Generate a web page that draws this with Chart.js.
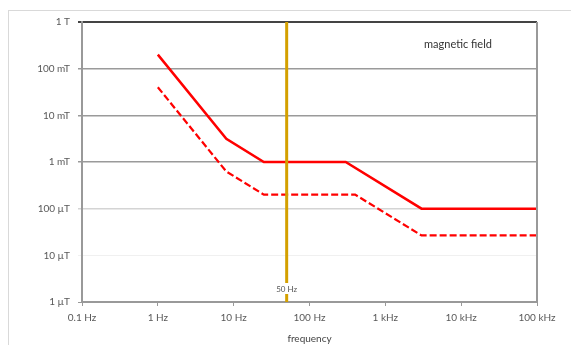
<!DOCTYPE html>
<html>
<head>
<meta charset="utf-8">
<script src="https://cdn.jsdelivr.net/npm/chart.js@4"></script>
<style>
  body { margin: 0; background: #fff; }
  .wrap { position: relative; width: 571px; height: 345px; overflow: hidden; }
  .frame { position: absolute; left: 8px; top: 10px; width: 600px; height: 400px;
           border-left: 1px solid #d9d9d9; border-top: 1px solid #d9d9d9; }
  canvas { position: absolute; left: 0; top: 0; }
</style>
</head>
<body>
<div class="wrap">
  <div class="frame"></div>
  <canvas id="myChart" width="571" height="345"></canvas>
</div>
<script>
// occupational limit (solid) and public limit (dashed), field in tesla
const solidFreq = [1, 8, 25, 300, 3000, 100000]
const solidField = [0.2, 0.003125, 0.001, 0.001, 0.0001, 0.0001]
const dashedFreq = [1, 8, 25, 400, 3000, 100000]
const dashedField = [0.04, 0.000625, 0.0002, 0.0002, 0.0000267, 0.0000267]

const xTicks = [0.1, 1, 10, 100, 1000, 10000, 100000]
const xLabels = ["0.1 Hz", "1 Hz", "10 Hz", "100 Hz", "1 kHz", "10 kHz", "100 kHz"]
const yTicks = [1e-6, 1e-5, 1e-4, 1e-3, 1e-2, 1e-1, 1]
const yLabels = ["1 µT", "10 µT", "100 µT", "1 mT", "10 mT", "100 mT", "1 T"]

const markFreq = 50
const markLabel = "50 Hz"
const boxText = "magnetic field"

const gridColors = ["#999999", "#f0f0f0", "#d4d4d4", "#9a9a9a", "#9a9a9a", "#9a9a9a", "#444444"]
const gridWidths = [1, 1, 1.5, 1.5, 1.5, 1.5, 2]

const toPoints = (xs, ys) => xs.map((x, i) => ({ x: x, y: ys[i] }))

const overlay = {
  id: "overlay",
  afterDatasetsDraw(chart) {
    const ctx = chart.ctx
    const area = chart.chartArea
    const x = chart.scales.x.getPixelForValue(markFreq)
    ctx.save()
    // right border
    ctx.strokeStyle = "#999"
    ctx.lineWidth = 2
    ctx.beginPath()
    ctx.moveTo(area.right, area.top)
    ctx.lineTo(area.right, area.bottom)
    ctx.stroke()
    // 50 Hz line
    ctx.strokeStyle = "#d4a000"
    ctx.lineWidth = 3
    ctx.beginPath()
    ctx.moveTo(x, area.top)
    ctx.lineTo(x, area.bottom)
    ctx.stroke()
    ctx.font = "8px Lato"
    ctx.textAlign = "center"
    ctx.textBaseline = "middle"
    const w = ctx.measureText(markLabel).width
    ctx.fillStyle = "#fff"
    ctx.fillRect(x - w / 2 - 1, area.bottom - 19, w + 2, 11)
    ctx.fillStyle = "#555"
    ctx.fillText(markLabel, x, area.bottom - 13)
    // text box
    ctx.font = "11px Lato"
    ctx.fillStyle = "#333"
    ctx.fillText(boxText, area.right - 79, area.top + 22)
    ctx.restore()
  }
}

const config = {
  type: "line",
  data: {
    datasets: [
      {
        label: "solid",
        data: toPoints(solidFreq, solidField),
        borderColor: "#ff0000",
        borderWidth: 2.5,
        pointRadius: 0,
        fill: false,
        tension: 0
      },
      {
        label: "dashed",
        data: toPoints(dashedFreq, dashedField),
        borderColor: "#ff0000",
        borderWidth: 2.2,
        borderDash: [7, 3],
        pointRadius: 0,
        fill: false,
        tension: 0
      }
    ]
  },
  options: {
    responsive: false,
    animation: false,
    layout: { padding: { top: 22, right: 34, left: 0, bottom: 0 } },
    plugins: { legend: { display: false }, tooltip: { enabled: false } },
    scales: {
      x: {
        type: "logarithmic",
        min: 0.1,
        max: 100000,
        afterBuildTicks: (scale) => { scale.ticks = xTicks.map(v => ({ value: v })) },
        afterFit: (scale) => { scale.height = 43 },
        ticks: {
          autoSkip: false,
          maxRotation: 0,
          padding: 6,
          color: "#595959",
          font: { family: "Lato", size: 10 },
          callback: (v) => xLabels[xTicks.indexOf(v)]
        },
        grid: { drawOnChartArea: false, tickLength: 4, color: "#999" },
        border: { color: "#999", width: 2 },
        title: {
          display: true,
          text: "frequency",
          color: "#444",
          font: { family: "Lato", size: 10 },
          padding: { top: 0, bottom: 0 }
        }
      },
      y: {
        type: "logarithmic",
        min: 1e-6,
        max: 1,
        afterBuildTicks: (scale) => { scale.ticks = yTicks.map(v => ({ value: v })) },
        afterFit: (scale) => { scale.width = 82 },
        ticks: {
          autoSkip: false,
          padding: 8,
          color: "#595959",
          font: { family: "Lato", size: 10 },
          callback: (v) => yLabels[yTicks.indexOf(v)]
        },
        grid: {
          tickLength: 4,
          color: (c) => gridColors[c.index],
          lineWidth: (c) => gridWidths[c.index]
        },
        border: { color: "#999", width: 2 }
      }
    }
  },
  plugins: [overlay]
}

const myChart = new Chart(document.getElementById("myChart").getContext("2d"), config)
</script>
</body>
</html>
